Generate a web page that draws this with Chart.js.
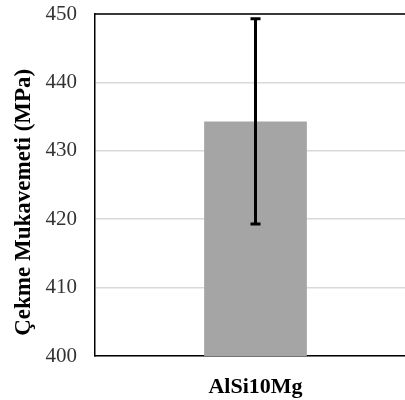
<!DOCTYPE html>
<html>
<head>
<meta charset="utf-8">
<script src="https://cdn.jsdelivr.net/npm/chart.js@4"></script>
<style>
  html, body { margin: 0; padding: 0; background: #fff; overflow: hidden; }
  #wrap { width: 416px; height: 400px; }
</style>
</head>
<body>
<div id="wrap"><canvas id="strength"></canvas></div>
<script>
var categories = ["AlSi10Mg"];
var strength = [434.3];
var strengthErr = [15];
var yTicks = [400, 410, 420, 430, 440, 450];

// error bars + top frame line
var errorBars = {
    id: 'errorBars',
    afterDatasetsDraw: function (chart) {
        var ctx = chart.ctx;
        var y = chart.scales.y;
        var meta = chart.getDatasetMeta(0);
        ctx.save();
        ctx.strokeStyle = "#000";
        ctx.lineWidth = 3;
        meta.data.forEach(function (bar, i) {
            var top = y.getPixelForValue(strength[i] + strengthErr[i]);
            var bot = y.getPixelForValue(strength[i] - strengthErr[i]);
            ctx.beginPath();
            ctx.moveTo(bar.x, top);
            ctx.lineTo(bar.x, bot);
            ctx.moveTo(bar.x - 5, top);
            ctx.lineTo(bar.x + 5, top);
            ctx.moveTo(bar.x - 5, bot);
            ctx.lineTo(bar.x + 5, bot);
            ctx.stroke();
        });
        ctx.lineWidth = 1.5;
        ctx.beginPath();
        ctx.moveTo(chart.chartArea.left, chart.chartArea.top);
        ctx.lineTo(chart.chartArea.right, chart.chartArea.top);
        ctx.stroke();
        ctx.restore();
    }
};

var myChart = new Chart(document.getElementById("strength"), {
type: 'bar',
data: {
    labels: categories,
    datasets: [{
        data: strength,
        backgroundColor: "#a5a5a5",
        barPercentage: 0.32,
        categoryPercentage: 1,
    }]
},
options: {
    responsive: true,
    maintainAspectRatio: false,
    animation: false,
    layout: {
        padding: { top: 14, right: 0, left: 0, bottom: 0 }
    },
    plugins: {
        legend: { display: false },
        tooltip: { enabled: false },
    },
    scales: {
        x: {
            grid: { display: false, drawTicks: false },
            border: { display: true, color: "#000", width: 1.5 },
            ticks: {
                color: "#000",
                padding: 18,
                font: { family: "Liberation Serif", size: 22, weight: 'bold' },
            },
            afterFit: function (scale) { scale.height = 44; },
        },
        y: {
            min: 400,
            max: 450,
            afterBuildTicks: function (scale) {
                scale.ticks = yTicks.map(function (v) { return { value: v }; });
            },
            grid: { color: "#d9d9d9", lineWidth: 1.5, drawTicks: false },
            border: { display: true, color: "#000", width: 1.5 },
            ticks: {
                color: "#333",
                padding: 18,
                font: { family: "Liberation Serif", size: 21 },
            },
            title: {
                display: true,
                // trailing spaces push the rotated title down a little, as in the original
                text: "Çekme Mukavemeti (MPa)      ",
                color: "#000",
                padding: { top: 10, bottom: 0 },
                font: { family: "Liberation Serif", size: 23, weight: 'bold' },
            },
            afterFit: function (scale) {
                scale.width = 95;
                scale.paddingTop = 0;
                scale.paddingBottom = 0;
            },
        }
    }
},
plugins: [errorBars]
});
</script>
</body>
</html>
